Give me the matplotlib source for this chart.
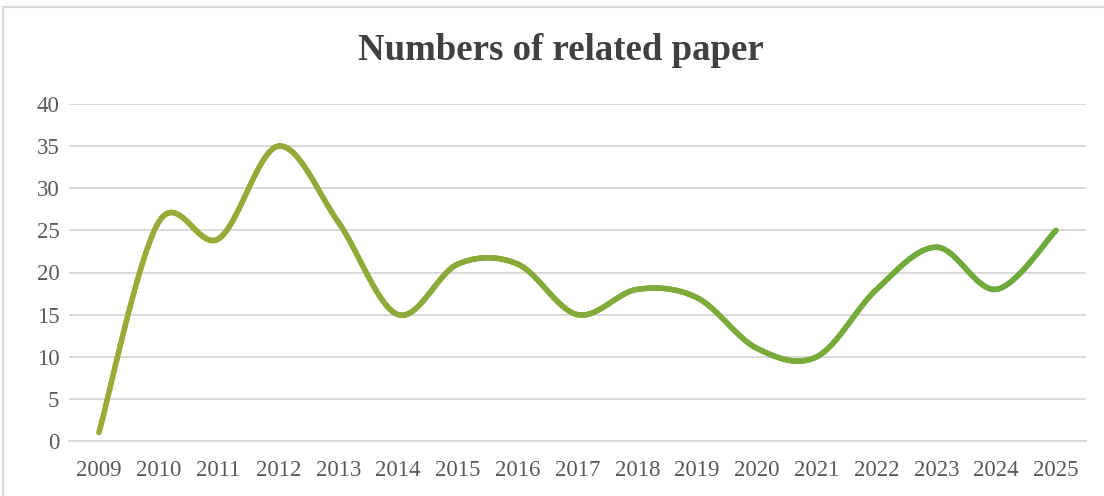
import numpy as np
import matplotlib
matplotlib.use("Agg")
import matplotlib.pyplot as plt
from matplotlib.collections import LineCollection
from matplotlib.colors import to_rgb
from matplotlib.patches import Rectangle

years = ["2009", "2010", "2011", "2012", "2013", "2014", "2015", "2016", "2017",
         "2018", "2019", "2020", "2021", "2022", "2023", "2024", "2025"]
papers = [1, 26, 24, 35, 26, 15, 21, 21, 15, 18, 17, 11, 10, 18, 23, 18, 25]

plt.rcParams['font.family'] = ['Liberation Serif', 'DejaVu Serif']

fig = plt.figure(figsize=(11.04, 4.96), dpi=100)
W, H = 1104, 496
ax = fig.add_axes([69 / W, (H - 441) / H, (1086 - 69) / W, (441 - 104) / H])

# Excel-like smoothing (Catmull-Rom via cubic Bezier)
x = np.arange(len(papers), dtype=float)
y = np.array(papers, dtype=float)
P = np.column_stack([x, y])
pts = []
n = len(P)
for i in range(n - 1):
    p0 = P[i - 1] if i > 0 else P[i]
    p1 = P[i]
    p2 = P[i + 1]
    p3 = P[i + 2] if i + 2 < n else P[i + 1]
    c1 = p1 + (p2 - p0) / 6.0
    c2 = p2 - (p3 - p1) / 6.0
    t = np.linspace(0, 1, 40, endpoint=(i == n - 2))[:, None]
    seg = ((1 - t) ** 3) * p1 + 3 * ((1 - t) ** 2) * t * c1 + 3 * (1 - t) * t ** 2 * c2 + t ** 3 * p2
    pts.append(seg)
pts = np.vstack(pts)

c_left = np.array(to_rgb("#9EAA38"))
c_right = np.array(to_rgb("#6AAB3B"))
segs = np.stack([pts[:-1], pts[1:]], axis=1)
frac = (segs[:, 0, 0] - x[0]) / (x[-1] - x[0])
cols = c_left[None, :] * (1 - frac[:, None]) + c_right[None, :] * frac[:, None]
lc = LineCollection(segs, colors=cols, linewidths=4.0, capstyle='round', joinstyle='round', zorder=3)
ax.add_collection(lc)

ax.set_xlim(-0.5, len(papers) - 0.5)
ax.set_ylim(0, 40)
ax.set_yticks(np.arange(0, 41, 5))
ax.set_xticks(x)
ax.set_xticklabels(years)
ax.grid(axis='y', color='#d9d9d9', linewidth=1.4, zorder=0)
ax.set_axisbelow(True)
for s in ['top', 'right', 'left']:
    ax.spines[s].set_visible(False)
ax.spines['bottom'].set_color('#d9d9d9')
ax.spines['bottom'].set_linewidth(1.4)
ax.tick_params(axis='both', length=0, labelsize=16.5, labelcolor='#595959')
ax.tick_params(axis='y', pad=7)
ax.tick_params(axis='x', pad=14)

fig.text(561 / W, 1 - 51 / H, "Numbers of related paper", ha='center', va='center',
         fontsize=26.5, fontweight='bold', color='#404040')

fig.patches.append(Rectangle((3 / W, -0.1), 1.2, (H - 7) / H + 0.1, transform=fig.transFigure,
                             fill=False, edgecolor='#d9d9d9', linewidth=1.5))

fig.savefig("out.png", dpi=100, facecolor='white')
